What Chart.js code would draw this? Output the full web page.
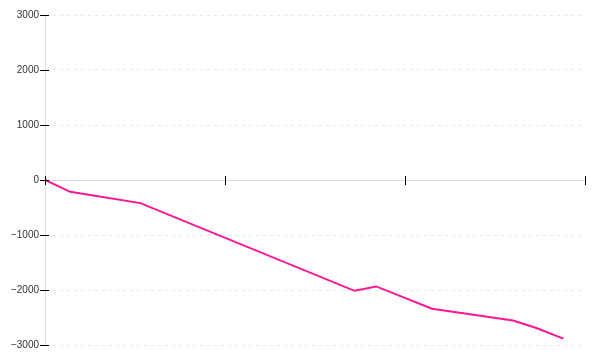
<!DOCTYPE html>
<html>
<head>
<meta charset="utf-8">
<script src="https://cdn.jsdelivr.net/npm/chart.js@4/dist/chart.umd.min.js"></script>
<style>
    html, body { margin: 0; padding: 0; background: #fff; }
    #wrap { width: 600px; height: 360px; }
</style>
</head>
<body>
<div id="wrap"><canvas id="chart"></canvas></div>
<script>
// x positions in axis units (axis runs 0..3, unlabelled ticks every 1)
const xValues = [0, 0.14, 0.53, 1.72, 1.84, 2.15, 2.6, 2.73, 2.88];
const yValues = [0, -215, -420, -2015, -1935, -2340, -2555, -2690, -2885];
const yTicks = [-3000, -2000, -1000, 0, 1000, 2000, 3000];

function tickLabel(v) {
    // real minus sign like the reference
    return v < 0 ? '\u2212' + Math.abs(v) : String(v);
}

// short black ticks that cross the axis lines
const crossTicks = {
    id: 'crossTicks',
    afterDatasetsDraw(chart) {
        const ctx = chart.ctx;
        const x = chart.scales.x;
        const y = chart.scales.y;
        const x0 = x.getPixelForValue(0);
        const y0 = y.getPixelForValue(0);
        ctx.save();
        ctx.strokeStyle = '#000';
        ctx.lineWidth = 1;
        ctx.beginPath();
        x.ticks.forEach(t => {
            const px = Math.round(x.getPixelForValue(t.value)) + 0.5;
            ctx.moveTo(px, y0 - 4);
            ctx.lineTo(px, y0 + 5);
        });
        y.ticks.forEach(t => {
            const py = Math.round(y.getPixelForValue(t.value)) + 0.5;
            ctx.moveTo(x0 - 5, py);
            ctx.lineTo(x0 + 4, py);
        });
        ctx.stroke();
        ctx.restore();
    }
};

new Chart(document.getElementById('chart'), {
    type: 'line',
    data: {
        datasets: [{
            data: xValues.map((v, i) => ({x: v, y: yValues[i]})),
            borderColor: '#ff1493',
            borderWidth: 2,
            pointRadius: 0,
            tension: 0,
            fill: false
        }]
    },
    options: {
        responsive: true,
        maintainAspectRatio: false,
        animation: false,
        layout: {
            padding: {top: 15, right: 15, bottom: 15, left: 0}
        },
        plugins: {
            legend: {display: false},
            tooltip: {enabled: false}
        },
        scales: {
            x: {
                type: 'linear',
                min: 0,
                max: 3,
                position: {y: 0},
                ticks: {display: false, stepSize: 1},
                grid: {display: false},
                border: {display: true, color: '#dddddd', width: 1}
            },
            y: {
                min: -3000,
                max: 3000,
                afterBuildTicks: (scale) => {
                    scale.ticks = yTicks.map(v => ({value: v}));
                },
                afterFit: (scale) => {
                    scale.width = 45;
                },
                ticks: {
                    padding: 6,
                    color: '#333',
                    font: {family: 'Liberation Sans', size: 10},
                    callback: (v) => tickLabel(v)
                },
                grid: {color: '#e8e8e8', drawTicks: false},
                border: {display: true, color: '#dddddd', width: 1, dash: [3, 4]}
            }
        }
    },
    plugins: [crossTicks]
});
</script>
</body>
</html>
